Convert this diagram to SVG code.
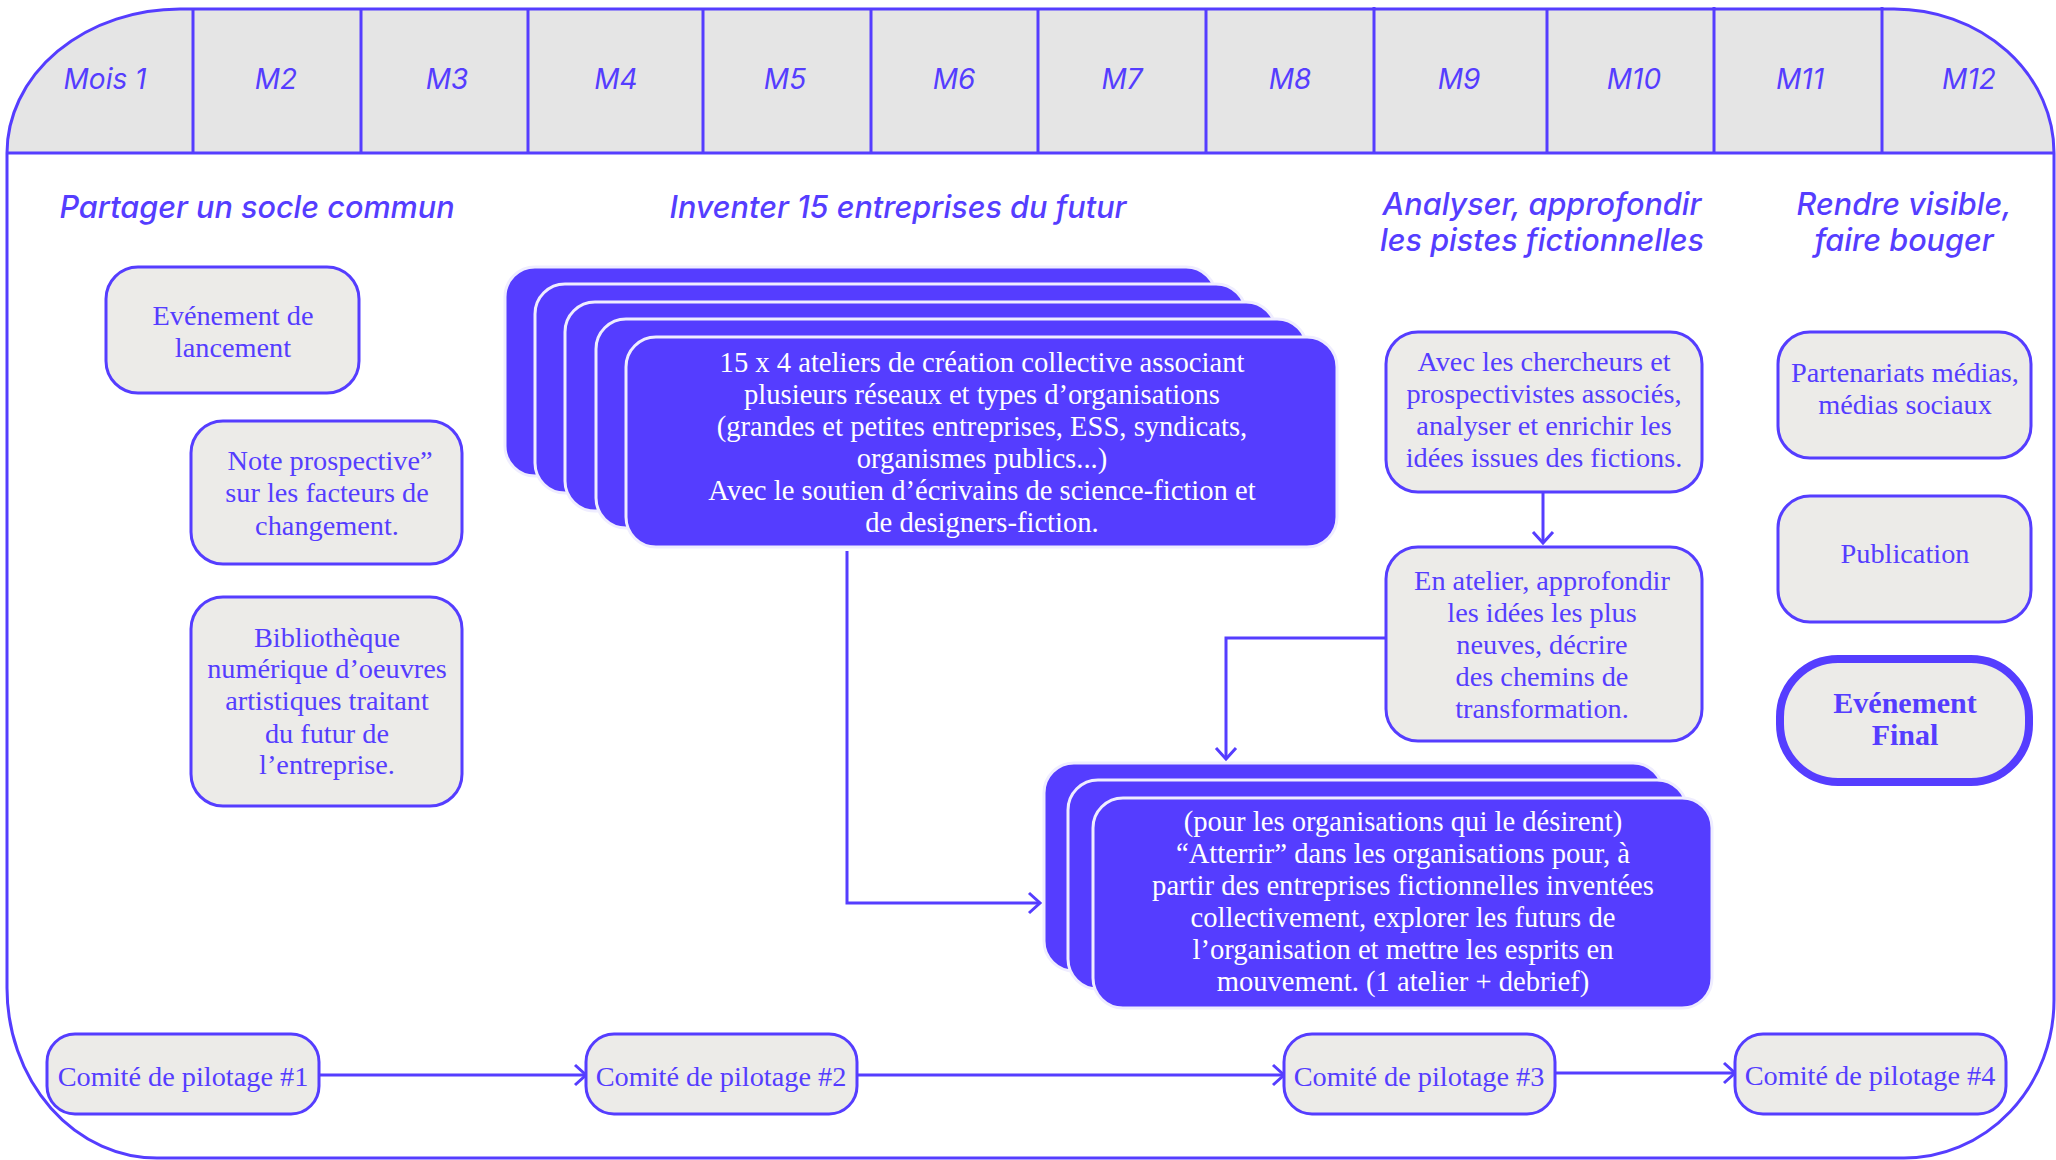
<svg xmlns="http://www.w3.org/2000/svg" width="2056" height="1160" viewBox="0 0 2056 1160">
<style>
.hdr{font-family:Inter,"Liberation Sans",sans-serif;font-style:italic;font-size:28px;fill:#553dff;text-anchor:middle}
.ttl{font-family:Inter,"Liberation Sans",sans-serif;font-style:italic;font-weight:500;font-size:30.6px;fill:#553dff;text-anchor:middle}
.gbox{fill:#ecebe8;stroke:#553dff;stroke-width:3}
.gt{font-family:"Liberation Serif",serif;font-size:28.3px;fill:#553dff;text-anchor:middle}
.card{fill:#553dff;stroke:#efedff;stroke-width:3}
.wt{font-family:"Liberation Serif",serif;font-size:28.6px;fill:#ffffff;text-anchor:middle}
.sep{stroke:#553dff;stroke-width:3}
.con{fill:none;stroke:#553dff;stroke-width:3}
.bt{font-family:"Liberation Serif",serif;font-weight:bold;font-size:30px;fill:#553dff;text-anchor:middle}
</style>
<defs>
<marker id="arr" markerUnits="userSpaceOnUse" markerWidth="16" markerHeight="24" refX="13" refY="12" orient="auto">
<path d="M2,2 L13,12 L2,22" fill="none" stroke="#553dff" stroke-width="3"/>
</marker>
</defs>
<rect width="2056" height="1160" fill="#ffffff"/>
<g id="frame">
<path d="M180,9 L1894,9 A160,144 0 0 1 2054,153 L7,153 A173,144 0 0 1 180,9 Z" fill="#e5e5e5"/>
<path d="M180,9 L1894,9 A160,144 0 0 1 2054,153 L2054,1000 A150,158 0 0 1 1904,1158 L157,1158 A150,170 0 0 1 7,988 L7,153 A173,144 0 0 1 180,9 Z" fill="none" stroke="#553dff" stroke-width="3"/>
<line x1="7" y1="153" x2="2054" y2="153" class="sep"/>
<line x1="193" y1="9" x2="193" y2="153" class="sep"/>
<line x1="361" y1="9" x2="361" y2="153" class="sep"/>
<line x1="528" y1="9" x2="528" y2="153" class="sep"/>
<line x1="703" y1="9" x2="703" y2="153" class="sep"/>
<line x1="871" y1="9" x2="871" y2="153" class="sep"/>
<line x1="1038" y1="9" x2="1038" y2="153" class="sep"/>
<line x1="1206" y1="9" x2="1206" y2="153" class="sep"/>
<line x1="1374" y1="7" x2="1374" y2="153" class="sep"/>
<line x1="1547" y1="9" x2="1547" y2="153" class="sep"/>
<line x1="1714" y1="7" x2="1714" y2="153" class="sep"/>
<line x1="1882" y1="7" x2="1882" y2="153" class="sep"/>
<text class="hdr" x="105" y="89">Mois 1</text>
<text class="hdr" x="276" y="89">M2</text>
<text class="hdr" x="447" y="89">M3</text>
<text class="hdr" x="616" y="89">M4</text>
<text class="hdr" x="785" y="89">M5</text>
<text class="hdr" x="954" y="89">M6</text>
<text class="hdr" x="1122" y="89">M7</text>
<text class="hdr" x="1290" y="89">M8</text>
<text class="hdr" x="1459" y="89">M9</text>
<text class="hdr" x="1634" y="89">M10</text>
<text class="hdr" x="1800" y="89">M11</text>
<text class="hdr" x="1969" y="89">M12</text>
</g>
<g id="titles">
<text class="ttl" x="257" y="218">Partager un socle commun</text>
<text class="ttl" x="898" y="218">Inventer 15 entreprises du futur</text>
<text class="ttl" x="1542" y="215">Analyser, approfondir</text>
<text class="ttl" x="1542" y="251">les pistes fictionnelles</text>
<text class="ttl" x="1904" y="215">Rendre visible,</text>
<text class="ttl" x="1904" y="251">faire bouger</text>
</g>
<g id="connectors">
<path class="con" d="M1543,492 L1543,543" marker-end="url(#arr)"/>
<path class="con" d="M1386,638 L1226,638 L1226,759" marker-end="url(#arr)"/>
<path class="con" d="M847,551 L847,903 L1040,903" marker-end="url(#arr)"/>
<path class="con" d="M319,1075 L586,1075" marker-end="url(#arr)"/>
<path class="con" d="M857,1075 L1284,1075" marker-end="url(#arr)"/>
<path class="con" d="M1555,1073 L1735,1073" marker-end="url(#arr)"/>
</g>
<g id="n-lancement">
<rect class="gbox" x="106" y="267" width="253" height="126" rx="32"/>
<text class="gt" x="233" y="325">Evénement de</text>
<text class="gt" x="233" y="357">lancement</text>
</g>
<g id="n-note">
<rect class="gbox" x="191" y="421" width="271" height="143" rx="32"/>
<text class="gt" x="330" y="470">Note prospective”</text>
<text class="gt" x="327" y="502">sur les facteurs de</text>
<text class="gt" x="327" y="535">changement.</text>
</g>
<g id="n-biblio">
<rect class="gbox" x="191" y="597" width="271" height="209" rx="32"/>
<text class="gt" x="327" y="647">Bibliothèque</text>
<text class="gt" x="327" y="678">numérique d’oeuvres</text>
<text class="gt" x="327" y="710">artistiques traitant</text>
<text class="gt" x="327" y="743">du futur de</text>
<text class="gt" x="327" y="774">l’entreprise.</text>
</g>
<g id="n-ateliers">
<rect class="card" x="505" y="267" width="711" height="209" rx="30"/>
<rect class="card" x="535" y="284" width="711" height="209" rx="30"/>
<rect class="card" x="565" y="302" width="711" height="209" rx="30"/>
<rect class="card" x="596" y="319" width="711" height="209" rx="30"/>
<rect class="card" x="626" y="337" width="711" height="210" rx="30"/>
<text class="wt" x="982" y="372">15 x 4 ateliers de création collective associant</text>
<text class="wt" x="982" y="404">plusieurs réseaux et types d’organisations</text>
<text class="wt" x="982" y="436">(grandes et petites entreprises, ESS, syndicats,</text>
<text class="wt" x="982" y="468">organismes publics...)</text>
<text class="wt" x="982" y="500">Avec le soutien d’écrivains de science-fiction et</text>
<text class="wt" x="982" y="532">de designers-fiction.</text>
</g>
<g id="n-chercheurs">
<rect class="gbox" x="1386" y="332" width="316" height="160" rx="32"/>
<text class="gt" x="1544" y="371">Avec les chercheurs et</text>
<text class="gt" x="1544" y="403">prospectivistes associés,</text>
<text class="gt" x="1544" y="435">analyser et enrichir les</text>
<text class="gt" x="1544" y="467">idées issues des fictions.</text>
</g>
<g id="n-approfondir">
<rect class="gbox" x="1386" y="547" width="316" height="194" rx="32"/>
<text class="gt" x="1542" y="590">En atelier, approfondir</text>
<text class="gt" x="1542" y="622">les idées les plus</text>
<text class="gt" x="1542" y="654">neuves, décrire</text>
<text class="gt" x="1542" y="686">des chemins de</text>
<text class="gt" x="1542" y="718">transformation.</text>
</g>
<g id="n-atterrir">
<rect class="card" x="1044" y="763" width="619" height="208" rx="30"/>
<rect class="card" x="1068" y="780" width="619" height="209" rx="30"/>
<rect class="card" x="1093" y="798" width="619" height="210" rx="30"/>
<text class="wt" x="1403" y="831">(pour les organisations qui le désirent)</text>
<text class="wt" x="1403" y="863">“Atterrir” dans les organisations pour, à</text>
<text class="wt" x="1403" y="895">partir des entreprises fictionnelles inventées</text>
<text class="wt" x="1403" y="927">collectivement, explorer les futurs de</text>
<text class="wt" x="1403" y="959">l’organisation et mettre les esprits en</text>
<text class="wt" x="1403" y="991">mouvement. (1 atelier + debrief)</text>
</g>
<g id="n-partenariats">
<rect class="gbox" x="1778" y="332" width="253" height="126" rx="32"/>
<text class="gt" x="1905" y="382">Partenariats médias,</text>
<text class="gt" x="1905" y="414">médias sociaux</text>
</g>
<g id="n-publication">
<rect class="gbox" x="1778" y="496" width="253" height="126" rx="32"/>
<text class="gt" x="1905" y="563">Publication</text>
</g>
<g id="n-final">
<rect x="1780" y="659" width="249" height="123" rx="58" fill="#ecebe8" stroke="#553dff" stroke-width="8"/>
<text class="bt" x="1905" y="713">Evénement</text>
<text class="bt" x="1905" y="745">Final</text>
</g>
<g id="n-copil1">
<rect class="gbox" x="47" y="1034" width="272" height="80" rx="28"/>
<text class="gt" x="183" y="1086">Comité de pilotage #1</text>
</g>
<g id="n-copil2">
<rect class="gbox" x="586" y="1034" width="271" height="80" rx="28"/>
<text class="gt" x="721" y="1086">Comité de pilotage #2</text>
</g>
<g id="n-copil3">
<rect class="gbox" x="1284" y="1034" width="271" height="80" rx="28"/>
<text class="gt" x="1419" y="1086">Comité de pilotage #3</text>
</g>
<g id="n-copil4">
<rect class="gbox" x="1735" y="1034" width="271" height="80" rx="28"/>
<text class="gt" x="1870" y="1085">Comité de pilotage #4</text>
</g>
</svg>
